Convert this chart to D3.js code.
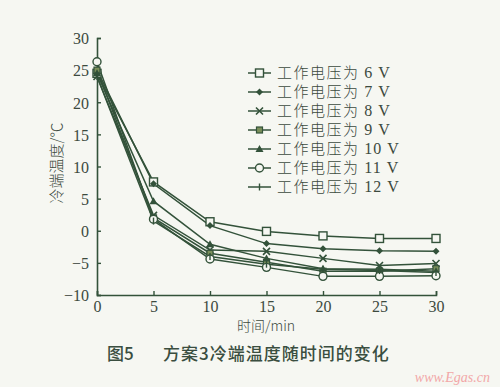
<!DOCTYPE html>
<html>
<head>
<meta charset="utf-8">
<script src="https://cdn.jsdelivr.net/npm/d3@7"></script>
<style>
  body { margin: 0; background: #f6f7f2; }
  svg { display: block; }
</style>
</head>
<body>
<div id="chart"></div>
<script>
// time in minutes
const times = [0, 5, 10, 15, 20, 25, 30];
const seriesNames = ["工作电压为 6 V", "工作电压为 7 V", "工作电压为 8 V", "工作电压为 9 V",
  "工作电压为 10 V", "工作电压为 11 V", "工作电压为 12 V"];
const v6 = [24.5, 7.6, 1.4, -0.1, -0.8, -1.2, -1.2];
const v7 = [25.0, 7.3, 0.8, -2.0, -2.8, -3.1, -3.2];
const v8 = [24.0, 2.4, -3.0, -3.2, -4.3, -5.4, -5.1];
const v9 = [25.0, 2.0, -3.5, -4.9, -6.3, -6.3, -5.9];
const v10 = [24.5, 4.6, -2.1, -4.3, -5.9, -6.0, -6.3];
const v11 = [26.3, 1.8, -4.4, -5.7, -7.1, -7.1, -7.0];
const v12 = [24.0, 1.5, -4.0, -5.2, -6.0, -6.2, -6.5];
const allValues = [v6, v7, v8, v9, v10, v11, v12];
const markers = ["square", "diamond", "cross", "squareFilled", "triangle", "circle", "plus"];
const xTicks = [0, 5, 10, 15, 20, 25, 30];
const yTicks = [-10, -5, 0, 5, 10, 15, 20, 25, 30];

const W = 500, H = 387;
const margin = { top: 38, right: 64, bottom: 92, left: 97 };
const width = 436 - margin.left;
const height = 295 - margin.top;
const ink = "#33523a";
const textCol = "#3c4a3e";

const svg = d3.select("#chart").append("svg")
  .attr("width", W).attr("height", H);

const g = svg.append("g")
  .attr("transform", `translate(${margin.left},${margin.top})`);

const x = d3.scaleLinear().domain([0, 30]).range([0, width]);
const y = d3.scaleLinear().domain([-10, 30]).range([height, 0]);

// axes with inward ticks
const xAxis = g.append("g")
  .attr("transform", `translate(0,${height})`)
  .call(d3.axisBottom(x).tickValues(xTicks).tickSize(-4).tickPadding(4));
const yAxis = g.append("g")
  .call(d3.axisLeft(y).tickValues(yTicks).tickSize(-4).tickPadding(8)
    .tickFormat(d => d < 0 ? "\u2212" + Math.abs(d) : d));

[xAxis, yAxis].forEach(a => {
  a.select(".domain").attr("stroke", ink).attr("stroke-width", 1.6);
  a.selectAll(".tick line").attr("stroke", ink).attr("stroke-width", 1.4);
  a.selectAll(".tick text")
    .attr("fill", textCol)
    .style("font-family", "'Liberation Serif', 'DejaVu Serif', serif")
    .style("font-size", "16px");
});
xAxis.selectAll(".tick text").attr("y", 6);
yAxis.selectAll(".tick text").attr("dy", "0.36em");

function drawMarker(sel, type, cx, cy) {
  const m = sel.append("g").attr("transform", `translate(${cx},${cy})`);
  if (type === "square") {
    m.append("rect").attr("x", -4).attr("y", -4).attr("width", 8).attr("height", 8)
      .attr("fill", "#f6f7f2").attr("stroke", ink).attr("stroke-width", 1.4);
  } else if (type === "squareFilled") {
    m.append("rect").attr("x", -3).attr("y", -3).attr("width", 6).attr("height", 6)
      .attr("fill", "#7a8f5a").attr("stroke", ink).attr("stroke-width", 1.2);
  } else if (type === "diamond") {
    m.append("path").attr("d", "M0,-3.5L3.5,0L0,3.5L-3.5,0Z").attr("fill", ink);
  } else if (type === "cross") {
    m.append("path").attr("d", "M-3.5,-3.5L3.5,3.5M-3.5,3.5L3.5,-3.5")
      .attr("stroke", ink).attr("stroke-width", 1.6);
  } else if (type === "triangle") {
    m.append("path").attr("d", "M0,-4L4,3L-4,3Z").attr("fill", ink);
  } else if (type === "circle") {
    m.append("circle").attr("r", 4).attr("fill", "#f6f7f2")
      .attr("stroke", ink).attr("stroke-width", 1.4);
  } else if (type === "plus") {
    m.append("path").attr("d", "M0,-3.5L0,3.5")
      .attr("stroke", ink).attr("stroke-width", 1.4);
  }
}

const line = d3.line().x((d, i) => x(times[i])).y(d => y(d));

allValues.forEach((vals, s) => {
  g.append("path").datum(vals)
    .attr("d", line)
    .attr("fill", "none")
    .attr("stroke", ink)
    .attr("stroke-width", 1.5);
});
allValues.forEach((vals, s) => {
  vals.forEach((v, i) => drawMarker(g, markers[s], x(times[i]), y(v)));
});

// legend
const legend = svg.append("g").attr("transform", "translate(248,73)");
seriesNames.forEach((name, i) => {
  const row = legend.append("g").attr("transform", `translate(0,${i * 19})`);
  row.append("line").attr("x1", 0).attr("x2", 23).attr("y1", 0).attr("y2", 0)
    .attr("stroke", ink).attr("stroke-width", 1.5);
  drawMarker(row, markers[i], 11.5, 0);
  const parts = name.match(/^(\D+)(.*)$/);
  const t = row.append("text").attr("x", 29).attr("y", 0).attr("dy", "0.36em")
    .attr("fill", textCol).style("font-size", "15px");
  t.append("tspan").text(parts[1])
    .style("font-family", "'Noto Sans CJK SC', sans-serif")
    .style("font-weight", "300")
    .style("letter-spacing", "1.5px");
  t.append("tspan").text(parts[2])
    .style("font-family", "'Liberation Serif', serif")
    .style("font-size", "16px")
    .style("letter-spacing", "1px");
});

// axis titles
svg.append("text")
  .attr("transform", "translate(57,163) rotate(-90)")
  .attr("text-anchor", "middle").attr("dy", "0.36em")
  .attr("fill", textCol)
  .style("font-family", "'Noto Sans CJK SC', sans-serif")
  .style("font-weight", "300")
  .style("font-size", "15px")
  .text("冷端温度/℃");

svg.append("text")
  .attr("x", 266).attr("y", 326).attr("dy", "0.36em")
  .attr("text-anchor", "middle")
  .attr("fill", textCol)
  .style("font-family", "'Noto Sans CJK SC', sans-serif")
  .style("font-weight", "300")
  .style("font-size", "14px")
  .text("时间/min");

// caption
svg.append("text")
  .attr("x", 107).attr("y", 354).attr("dy", "0.36em")
  .attr("fill", "#3a4e40")
  .style("font-family", "'Noto Sans CJK SC', sans-serif")
  .style("font-weight", "500")
  .style("font-size", "17px")
  .text("图5");
svg.append("text")
  .attr("x", 163).attr("y", 354).attr("dy", "0.36em")
  .attr("fill", "#3a4e40")
  .style("font-family", "'Noto Sans CJK SC', sans-serif")
  .style("font-weight", "500")
  .style("font-size", "17px")
  .style("letter-spacing", "1px")
  .text("方案3冷端温度随时间的变化");

// watermark
svg.append("text")
  .attr("x", 490).attr("y", 377).attr("dy", "0.36em")
  .attr("text-anchor", "end")
  .attr("fill", "#f2a8a8")
  .style("font-family", "'Liberation Serif', serif")
  .style("font-style", "italic")
  .style("font-size", "14px")
  .text("www.Egas.cn");
</script>
</body>
</html>
